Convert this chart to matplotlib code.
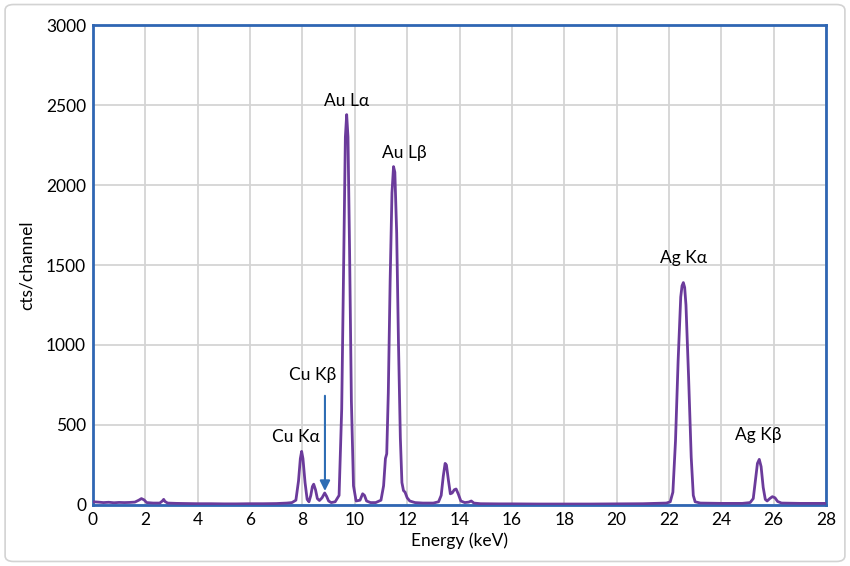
import matplotlib
matplotlib.use("Agg")
import matplotlib.pyplot as plt
from matplotlib.patches import FancyBboxPatch

energy = [0.0, 0.2, 0.4, 0.6, 0.8, 1.0, 1.2, 1.4, 1.6, 1.75, 1.85, 1.95, 2.05, 2.3, 2.55, 2.65, 2.7, 2.75, 2.85,
          3.2, 3.6, 4.0, 4.5, 5.0, 5.5, 6.0, 6.5, 7.0, 7.4, 7.6, 7.75, 7.85, 7.92, 7.97, 8.02, 8.1, 8.18, 8.25,
          8.32, 8.38, 8.43, 8.5, 8.57, 8.65, 8.75, 8.85, 8.92, 9.0, 9.1, 9.25, 9.4, 9.5, 9.58, 9.64, 9.69, 9.74,
          9.8, 9.87, 9.95, 10.05, 10.2, 10.3, 10.37, 10.45, 10.6, 10.8, 11.0, 11.1, 11.17, 11.22, 11.28, 11.35,
          11.42, 11.48, 11.53, 11.6, 11.67, 11.74, 11.8, 11.86, 11.92, 12.0, 12.1, 12.3, 12.6, 13.0, 13.2, 13.3,
          13.38, 13.45, 13.5, 13.58, 13.65, 13.72, 13.8, 13.87, 13.95, 14.05, 14.2, 14.35, 14.45, 14.55, 14.8,
          15.5, 16.0, 17.0, 18.0, 19.0, 20.0, 21.0, 21.5, 21.9, 22.05, 22.15, 22.25, 22.35, 22.45, 22.5, 22.55,
          22.6, 22.65, 22.75, 22.85, 22.93, 23.0, 23.2, 24.0, 24.8, 25.1, 25.22, 25.3, 25.38, 25.45, 25.52, 25.6,
          25.68, 25.75, 25.85, 25.95, 26.05, 26.15, 26.3, 27.0, 28.0]
counts = [20, 18, 15, 17, 14, 16, 15, 16, 18, 30, 40, 32, 15, 12, 12, 25, 35, 22, 12,
          10, 9, 8, 8, 7, 7, 8, 8, 9, 12, 15, 30, 150, 290, 335, 290, 140, 35, 20,
          60, 115, 130, 95, 40, 28, 45, 75, 55, 25, 15, 20, 60, 600, 1600, 2300, 2440, 2300,
          1600, 650, 120, 25, 30, 70, 60, 25, 15, 15, 30, 120, 290, 320, 700, 1400,
          1950, 2115, 2080, 1700, 1000, 420, 140, 90, 80, 45, 25, 15, 12, 12, 20, 60,
          180, 260, 250, 150, 70, 75, 95, 100, 70, 25, 15, 18, 25, 12, 8,
          7, 7, 6, 6, 6, 7, 8, 10, 12, 20, 80, 400, 900, 1300, 1370, 1390,
          1360, 1250, 800, 300, 60, 20, 12, 10, 10, 15, 40, 150, 260, 285, 240, 110,
          35, 25, 40, 52, 45, 22, 12, 10, 10]

x_ticks = list(range(0, 29, 2))
y_ticks = [0, 500, 1000, 1500, 2000, 2500, 3000]

labels = ["Au L\u03b1", "Au L\u03b2", "Cu K\u03b2", "Cu K\u03b1", "Ag K\u03b1", "Ag K\u03b2"]
label_x = [9.70, 11.88, 8.40, 7.75, 22.57, 25.40]
label_y = [2525, 2200, 812, 425, 1544, 437]

FAM = ["Lato", "DejaVu Sans"]
plt.rcParams["font.family"] = FAM
FS = 12.5

fig = plt.figure(figsize=(8.5, 5.66), dpi=100)
fig.patches.append(FancyBboxPatch((0.006, 0.008), 0.988, 0.984, boxstyle="round,pad=0,rounding_size=0.01",
                                  transform=fig.transFigure, facecolor="white", edgecolor="#D3D3D3",
                                  linewidth=1.2, zorder=-10))
ax = fig.add_axes([0.1094, 0.1078, 0.8624, 0.848])

ax.plot(energy, counts, color="#6B3B9B", linewidth=2.0, zorder=3, solid_joinstyle="round")

ax.set_xlim(0, 28)
ax.set_ylim(0, 3000)
ax.set_xticks(x_ticks)
ax.set_yticks(y_ticks)
ax.grid(True, color="#D4D4D4", linewidth=1.3)
ax.set_axisbelow(True)
for s in ax.spines.values():
    s.set_color("#2F66B3")
    s.set_linewidth(2.0)
ax.tick_params(length=0, labelsize=FS, pad=5, colors="#000000")
ax.set_xlabel("Energy (keV)", fontsize=FS, labelpad=3)
ax.set_ylabel("cts/channel", fontsize=FS, labelpad=8)

for t, x, y in zip(labels, label_x, label_y):
    ax.text(x, y, t, ha="center", va="center", fontsize=FS, family=FAM, zorder=5)

ax.annotate("", xy=(8.86, 70), xytext=(8.86, 700),
            arrowprops=dict(arrowstyle="-|>,head_length=0.6,head_width=0.3", color="#2E6DB4", lw=1.5),
            zorder=4)

fig.savefig("out.png", dpi=100)
